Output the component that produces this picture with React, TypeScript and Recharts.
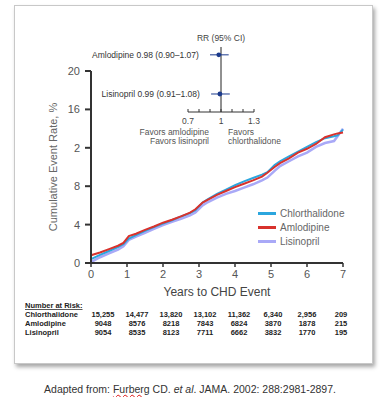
import React from "react";
import {
  LineChart, Line, XAxis, YAxis,
  ScatterChart, Scatter, ErrorBar, ReferenceLine,
} from "recharts";

// ---- Kaplan-Meier style cumulative curves ----
const years = [0, 0.25, 0.5, 0.75, 0.9, 1.05, 1.25, 1.5, 1.75, 2, 2.25, 2.5, 2.75, 2.9, 3.1, 3.25, 3.5, 3.75, 4, 4.25, 4.5, 4.75, 4.9, 5.1, 5.25, 5.5, 5.75, 6, 6.25, 6.5, 6.75, 6.85, 7];
const chlorthalidone = [0.4, 0.85, 1.25, 1.65, 1.95, 2.55, 2.9, 3.35, 3.75, 4.1, 4.45, 4.85, 5.2, 5.5, 6.3, 6.65, 7.2, 7.65, 8.1, 8.5, 8.85, 9.2, 9.45, 10.2, 10.6, 11.1, 11.6, 12.1, 12.6, 13.0, 13.2, 13.3, 13.9];
const amlodipine = [0.8, 1.1, 1.45, 1.8, 2.1, 2.8, 3.05, 3.45, 3.8, 4.2, 4.5, 4.85, 5.25, 5.6, 6.3, 6.6, 7.1, 7.5, 7.9, 8.25, 8.6, 9.0, 9.4, 10.0, 10.4, 10.9, 11.5, 11.9, 12.4, 13.1, 13.4, 13.5, 13.6];
const lisinopril = [0.1, 0.6, 1.0, 1.4, 1.75, 2.4, 2.75, 3.15, 3.55, 3.95, 4.3, 4.6, 4.95, 5.25, 6.0, 6.35, 6.8, 7.2, 7.5, 7.85, 8.2, 8.6, 8.9, 9.6, 10.1, 10.6, 11.1, 11.5, 12.1, 12.5, 12.7, 13.2, 14.0];

const xTicks = [0, 1, 2, 3, 4, 5, 6, 7];
const yTicks = [0, 4, 8, 12, 16, 20];
const yTickLabels = ["0", "4", "8", "2", "16", "20"];

// ---- Number at risk ----
const riskNames = ["Chlorthalidone", "Amlodipine", "Lisinopril"];
const riskChlorthalidone = ["15,255", "14,477", "13,820", "13,102", "11,362", "6,340", "2,956", "209"];
const riskAmlodipine = ["9048", "8576", "8218", "7843", "6824", "3870", "1878", "215"];
const riskLisinopril = ["9054", "8535", "8123", "7711", "6662", "3832", "1770", "195"];

// ---- Forest inset ----
const forestNames = ["Amlodipine", "Lisinopril"];
const forestRR = [0.98, 0.99];
const forestLow = [0.9, 0.91];
const forestHigh = [1.07, 1.08];
const forestTicks = [0.7, 0.8, 0.9, 1, 1.1, 1.2, 1.3];
const forestTickLabels = [0.7, 1, 1.3];

const FONT = "'Liberation Sans', Arial, sans-serif";
const C_CHL = "#2ba6de";
const C_AML = "#d8322d";
const C_LIS = "#a9a9f7";
const NAVY = "#1b3a8c";

const series = [
  { key: "chl", name: "Chlorthalidone", color: C_CHL },
  { key: "aml", name: "Amlodipine", color: C_AML },
  { key: "lis", name: "Lisinopril", color: C_LIS },
];

const data = years.map((t, i) => ({
  t,
  chl: chlorthalidone[i],
  aml: amlodipine[i],
  lis: lisinopril[i],
}));

const forestData = forestNames.map((n, i) => ({
  row: i,
  rr: forestRR[i],
  err: [forestRR[i] - forestLow[i], forestHigh[i] - forestRR[i]],
  label: `${n} ${forestRR[i].toFixed(2)} (${forestLow[i].toFixed(2)}\u2013${forestHigh[i].toFixed(2)})`,
}));

const riskRows = [riskChlorthalidone, riskAmlodipine, riskLisinopril];

const ForestShape = (props: any) => {
  const { cx, cy, payload } = props;
  return (
    <g>
      <circle cx={cx} cy={cy} r={2.4} fill={NAVY} />
      <text x={cx - 20} y={cy + 3} textAnchor="end" fontSize={8.5} fill="#333" fontFamily={FONT}>
        {payload.label}
      </text>
    </g>
  );
};

const ForestTick = (props: any) => {
  const { x, y, payload } = props;
  const v = payload.value;
  const show = forestTickLabels.some((l) => Math.abs(l - v) < 1e-6);
  return (
    <g>
      <line x1={x} x2={x} y1={y} y2={y - 3} stroke="#333" strokeWidth={1} />
      {show && (
        <text x={x} y={y + 12} textAnchor="middle" fontSize={8.5} fill="#444" fontFamily={FONT}>
          {String(v)}
        </text>
      )}
    </g>
  );
};

export default function App() {
  const colX = (i: number) => 103 + 34 * i;
  return (
    <div style={{ position: "absolute", left: 0, top: 0, width: 380, height: 397, background: "#fff", fontFamily: FONT }}>
      {/* frame */}
      <div
        style={{
          position: "absolute", left: 14, top: 5, width: 357, height: 357,
          border: "1px solid #c8c8c8", boxShadow: "2px 3px 4px rgba(0,0,0,0.35)", background: "#fff",
        }}
      />
      {/* static texts */}
      <svg width={380} height={397} style={{ position: "absolute", left: 0, top: 0 }}>
        <text x={53} y={167} transform="rotate(-90 53 167)" textAnchor="middle" dominantBaseline="central"
          fontSize={11} fill="#666" fontFamily={FONT}>Cumulative Event Rate, %</text>
        <text x={209} y={135} textAnchor="end" fontSize={8.5} fill="#555" fontFamily={FONT}>Favors amlodipine</text>
        <text x={209} y={144} textAnchor="end" fontSize={8.5} fill="#555" fontFamily={FONT}>Favors lisinopril</text>
        <text x={228} y={135} textAnchor="start" fontSize={8.5} fill="#555" fontFamily={FONT}>Favors</text>
        <text x={228} y={144} textAnchor="start" fontSize={8.5} fill="#555" fontFamily={FONT}>chlorthalidone</text>

        <text x={25} y={308} fontSize={7.5} fontWeight="bold" fill="#222" fontFamily={FONT} textDecoration="underline">Number at Risk:</text>
        {riskNames.map((n, r) => (
          <g key={n}>
            <text x={25} y={317 + r * 9} fontSize={7.5} fontWeight="bold" fill="#222" fontFamily={FONT}>{n}</text>
            {riskRows[r].map((v, i) => (
              <text key={i} x={colX(i)} y={317 + r * 9} textAnchor="middle" fontSize={7.5} fontWeight="bold" fill="#222" fontFamily={FONT}>{v}</text>
            ))}
          </g>
        ))}
      </svg>

      {/* main chart */}
      <div style={{ position: "absolute", left: 0, top: 0 }}>
        <LineChart width={380} height={397} data={data} margin={{ top: 71, right: 37, bottom: 114, left: 50 }}>
          <XAxis
            dataKey="t" type="number" domain={[0, 7]} ticks={xTicks} interval={0}
            axisLine={{ stroke: "#333", strokeWidth: 2 }}
            tickLine={{ stroke: "#333", strokeWidth: 1.5 }} tickSize={4} tickMargin={3}
            tick={{ fontSize: 11, fill: "#555", fontFamily: FONT }}
            height={20}
            label={{ value: "Years to CHD Event", position: "bottom", offset: 4, fontSize: 12, fill: "#444", fontFamily: FONT }}
          />
          <YAxis
            type="number" domain={[0, 20]} ticks={yTicks} interval={0} width={41}
            tickFormatter={(v: number) => yTickLabels[yTicks.indexOf(v)]}
            axisLine={{ stroke: "#333", strokeWidth: 2 }}
            tickLine={{ stroke: "#333", strokeWidth: 2 }} tickSize={6} tickMargin={5}
            tick={{ fontSize: 11, fill: "#555", fontFamily: FONT }}
          />
          <Line type="linear" dataKey="lis" name="Lisinopril" stroke={C_LIS} strokeWidth={2.5} dot={false} isAnimationActive={false} />
          <Line type="linear" dataKey="chl" name="Chlorthalidone" stroke={C_CHL} strokeWidth={2} dot={false} isAnimationActive={false} />
          <Line type="linear" dataKey="aml" name="Amlodipine" stroke={C_AML} strokeWidth={2} dot={false} isAnimationActive={false} />
        </LineChart>
      </div>

      {/* legend */}
      <div style={{ position: "absolute", left: 258, top: 206, fontFamily: FONT, fontSize: 10, color: "#666" }}>
        {series.map((s) => (
          <div key={s.key} style={{ display: "flex", alignItems: "center", height: 14 }}>
            <div style={{ width: 18, height: 3, background: s.color, marginRight: 4 }} />
            <span>{s.name}</span>
          </div>
        ))}
      </div>

      {/* forest inset */}
      <div style={{ position: "absolute", left: 80, top: 20 }}>
        <ScatterChart width={200} height={115} margin={{ top: 27, right: 26, bottom: 0, left: 108 }}>
          <XAxis
            dataKey="rr" type="number" domain={[0.7, 1.3]} ticks={forestTicks} interval={0}
            axisLine={{ stroke: "#333", strokeWidth: 1 }} tickLine={false}
            tickSize={0} tickMargin={0} height={23}
            tick={<ForestTick />}
          />
          <YAxis dataKey="row" type="number" domain={[-0.2, 1.46]} reversed hide />
          <ReferenceLine
            x={1} stroke="#222" strokeWidth={1}
            label={{ value: "RR (95% CI)", position: "top", offset: 6, fontSize: 8.5, fill: "#444", fontFamily: FONT }}
          />
          <Scatter data={forestData} shape={<ForestShape />} isAnimationActive={false}>
            <ErrorBar dataKey="err" direction="x" width={0} stroke={NAVY} strokeWidth={1} />
          </Scatter>
        </ScatterChart>
      </div>

      {/* caption */}
      <div
        style={{
          position: "absolute", left: 0, top: 383, width: 380, textAlign: "center",
          fontSize: 10.5, color: "#333", fontFamily: FONT, whiteSpace: "nowrap",
        }}
      >
        Adapted from: <span style={{ textDecoration: "underline wavy #d11", textDecorationThickness: 1 }}>Furberg</span> CD. <i>et al</i>. JAMA. 2002: 288:2981-2897.
      </div>
    </div>
  );
}
